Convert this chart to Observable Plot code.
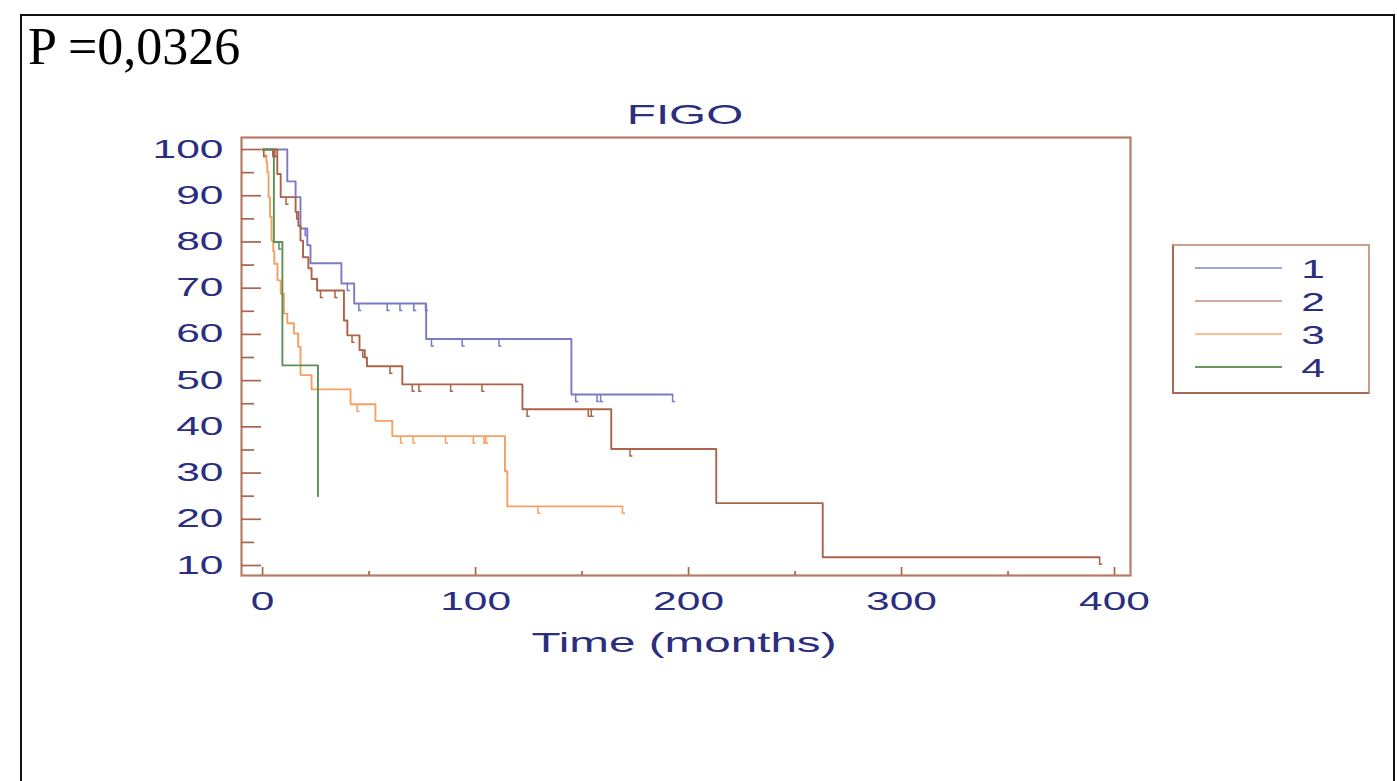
<!DOCTYPE html>
<html><head><meta charset="utf-8">
<script src="https://cdn.jsdelivr.net/npm/d3@7"></script>
<script src="https://cdn.jsdelivr.net/npm/@observablehq/plot@0.6"></script>
<style>
body{margin:0;background:#fff;width:1397px;height:781px;overflow:hidden;position:relative;font-family:"Liberation Sans",Arial,sans-serif;}
#border{position:absolute;left:20px;top:14px;width:1371px;height:800px;border:2px solid #111;border-bottom:none;}
#pval{position:absolute;left:28px;top:21px;font-family:"Liberation Serif",serif;font-size:52px;line-height:52px;color:#000;white-space:nowrap;}
#chart{position:absolute;left:0;top:0;}
.lbl{position:absolute;white-space:nowrap;color:#2b2e7e;font-size:28px;line-height:28px;transform:translateX(-50%) scaleX(1.7);}
#legend{position:absolute;left:1172px;top:244px;width:194px;height:146px;border:2px solid #c89e8c;border-left-color:#a9694f;border-bottom-color:#a9694f;}
</style></head>
<body>
<div id="border"></div>
<div id="pval">P =0,0326</div>
<div id="chart"></div>
<div class="lbl" id="title" style="left:685px;top:101px;">FIGO</div>
<div class="lbl" id="xlab" style="left:684px;top:629px;">Time (months)</div>
<div id="legend"></div>
<script>
const seriesNames = ["1", "2", "3", "4"];
const seriesColors = ["#7a7ac8", "#ac634a", "#f7a062", "#5a9154"];
const legendColors = ["#a3a3dc", "#d2aa9a", "#fdbd92", "#6a9a5e"];

// Series 1 (blue)
const s1Time = [0, 11.6, 15.5, 17.8, 21, 22.5, 37, 43, 76.8, 145, 192.5];
const s1Surv = [100, 93.1, 89.7, 82.9, 79.3, 75.4, 71, 66.7, 59, 47, 47];
const s1Censor = [20, 39.8, 45.2, 58.5, 64.5, 71, 76.5, 79.3, 93.7, 111, 147, 157, 158.7, 192.5];
// Series 2 (brown)
const s2Time = [0, 6.9, 8.5, 15.5, 16.8, 17.8, 19, 21.5, 23, 25.6, 38.2, 39.8, 45.5, 48, 49, 65.6, 122, 163.7, 213, 263, 393];
const s2Surv = [100, 94.7, 89.7, 86.5, 83.5, 80.3, 76.7, 74.3, 72, 69.5, 63, 59.8, 56.6, 55, 53.1, 49.2, 43.8, 35.2, 23.5, 11.8, 11.8];
const s2Censor = [0.5, 4.8, 5.3, 5.8, 11, 16, 27.2, 34, 42, 47, 59.8, 70.3, 73.4, 88.3, 103, 124.2, 152.9, 154.3, 172.5, 393];
// Series 3 (orange)
const s3Time = [0, 0.6, 1.8, 2.2, 2.8, 3.5, 4.2, 5, 5.5, 7, 8.5, 10, 11.6, 14.7, 16.7, 17.8, 23, 41.3, 53, 60.9, 113.8, 114.9, 169];
const s3Surv = [100, 98.7, 97.3, 95.1, 89.7, 85.4, 80.3, 78, 75.3, 71.7, 68.8, 64.5, 62.4, 60.2, 57.3, 51.2, 48.1, 44.9, 41.3, 38, 30.4, 22.8, 22.8];
const s3Censor = [44.4, 64.8, 70.7, 85.9, 98.9, 103.9, 104.8, 129.3, 169];
// Series 4 (green)
const s4Time = [0, 5.3, 9.3, 26];
const s4Surv = [100, 80, 53.3, 25];
const s4Censor = [7.7];

const yMajor = [10, 20, 30, 40, 50, 60, 70, 80, 90, 100];
const yMinor = [15, 25, 35, 45, 55, 65, 75, 85, 95];
const xMajor = [0, 100, 200, 300, 400];
const xMinor = [50, 150, 250, 350];

const frameColor = "#b87c65";
const tickColor = "#a8654c";
const textColor = "#2b2e7e";

const series = [
  {name: seriesNames[0], time: s1Time, surv: s1Surv, censor: s1Censor},
  {name: seriesNames[1], time: s2Time, surv: s2Surv, censor: s2Censor},
  {name: seriesNames[2], time: s3Time, surv: s3Surv, censor: s3Censor},
  {name: seriesNames[3], time: s4Time, surv: s4Surv, censor: s4Censor}
];
const curveRows = [];
const censorRows = [];
for (const s of series) {
  s.time.forEach((t, i) => curveRows.push({t, v: s.surv[i], s: s.name}));
  for (const c of s.censor) {
    let v = s.surv[0];
    s.time.forEach((t, i) => { if (t <= c) v = s.surv[i]; });
    censorRows.push({t: c, v, s: s.name});
  }
}
const censorSymbol = {draw(ctx) { ctx.moveTo(0, 0); ctx.lineTo(0, 7); ctx.lineTo(2.5, 7); }};

const axisCommon = {stroke: tickColor, strokeWidth: 1.7, fill: textColor, fontSize: 25, label: null};
const chart = Plot.plot({
  width: 1397, height: 680,
  marginLeft: 241, marginRight: 267, marginTop: 137, marginBottom: 105,
  x: {domain: [-9.9, 407.5], label: null},
  y: {domain: [7.84, 102.6], label: null},
  color: {domain: seriesNames, range: seriesColors},
  style: {fontFamily: "Liberation Sans, Arial, sans-serif", background: "transparent", overflow: "visible"},
  marks: [
    Plot.line(curveRows, {x: "t", y: "v", z: "s", stroke: "s", curve: "step-after", strokeWidth: 1.9}),
    Plot.dot(censorRows, {x: "t", y: "v", stroke: "s", fill: "none", symbol: censorSymbol, r: 3, strokeWidth: 1.5}),
    Plot.frame({stroke: frameColor, strokeWidth: 2.2}),
    Plot.axisY(yMajor, {...axisCommon, tickSize: -20, tickPadding: 38}),
    Plot.axisY(yMinor, {...axisCommon, tickSize: -13, tickFormat: () => ""}),
    Plot.axisX(xMajor, {...axisCommon, tickSize: -8, tickPadding: 25}),
    Plot.axisX(xMinor, {...axisCommon, tickSize: -4, tickFormat: () => ""})
  ]
});
chart.querySelectorAll('g[aria-label$="tick label"] text').forEach(t => {
  const tr = t.getAttribute("transform");
  if (tr) t.setAttribute("transform", tr + " scale(1.7,1)");
});
document.getElementById("chart").appendChild(chart);

// legend
const ns = "http://www.w3.org/2000/svg";
const lsvg = document.createElementNS(ns, "svg");
lsvg.setAttribute("width", 194); lsvg.setAttribute("height", 146);
lsvg.style.position = "absolute"; lsvg.style.left = "0"; lsvg.style.top = "0";
seriesNames.forEach((name, i) => {
  const y = 22 + i * 33;
  const ln = document.createElementNS(ns, "line");
  ln.setAttribute("x1", 21); ln.setAttribute("x2", 108);
  ln.setAttribute("y1", y); ln.setAttribute("y2", y);
  ln.setAttribute("stroke", legendColors[i]); ln.setAttribute("stroke-width", 2);
  lsvg.appendChild(ln);
  const tx = document.createElementNS(ns, "text");
  tx.textContent = name;
  tx.setAttribute("transform", `translate(139,${y + 10}) scale(1.7,1)`);
  tx.setAttribute("text-anchor", "middle");
  tx.setAttribute("font-size", 25);
  tx.setAttribute("font-family", "Liberation Sans, Arial, sans-serif");
  tx.setAttribute("fill", textColor);
  lsvg.appendChild(tx);
});
document.getElementById("legend").appendChild(lsvg);
</script>
</body></html>
